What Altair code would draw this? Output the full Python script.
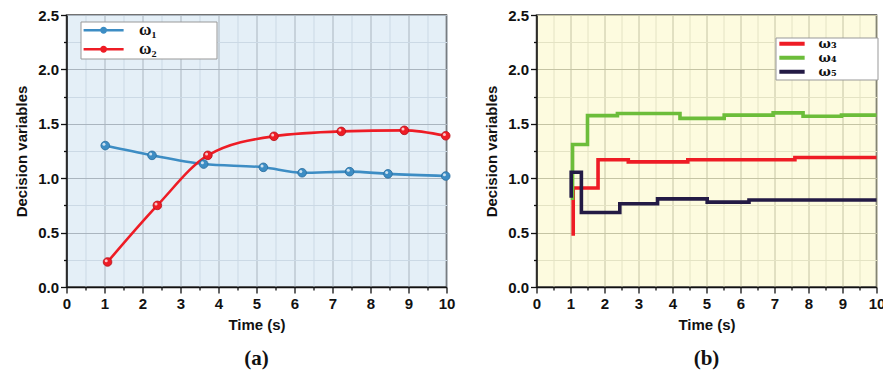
import altair as alt
import pandas as pd

# ---------------- data: panel (a) ----------------
w1_time = [1.02, 2.25, 3.61, 5.18, 6.20, 7.45, 8.46, 9.98]
w1_val = [1.30, 1.21, 1.13, 1.10, 1.05, 1.06, 1.04, 1.02]
w2_time = [1.08, 2.39, 3.72, 5.46, 7.23, 8.89, 9.98]
w2_val = [0.23, 0.75, 1.21, 1.385, 1.43, 1.44, 1.39]

# ---------------- data: panel (b) (step signals) ----------------
w3_time = [1.08, 1.08, 1.81, 2.70, 4.45, 7.60, 10.0]
w3_val = [0.47, 0.91, 1.17, 1.15, 1.17, 1.19, 1.19]
w4_time = [1.06, 1.06, 1.50, 2.38, 4.22, 5.52, 6.96, 7.84, 8.97, 10.0]
w4_val = [0.80, 1.31, 1.575, 1.595, 1.55, 1.58, 1.60, 1.57, 1.58, 1.58]
w5_time = [1.02, 1.02, 1.32, 2.45, 3.56, 5.02, 6.25, 10.0]
w5_val = [0.82, 1.055, 0.685, 0.765, 0.81, 0.78, 0.80, 0.80]

series_a = ["ω₁", "ω₂"]
series_b = ["ω₃", "ω₄", "ω₅"]
colors_a = ["#3d8dc4", "#ee1c25"]
edge_a = ["#2a6c9c", "#b5121a"]
colors_b = ["#ee1c25", "#6cbd3a", "#231a45"]

x_ticks = [i * 0.5 for i in range(21)]
y_ticks = [i * 0.25 for i in range(11)]


def frame(rows):
    out = []
    for name, ts, vs in rows:
        for i, (t, v) in enumerate(zip(ts, vs)):
            out.append({"series": name, "t": t, "v": v, "idx": i})
    return pd.DataFrame(out)


df_a = frame([(series_a[0], w1_time, w1_val), (series_a[1], w2_time, w2_val)])
df_b = frame([(series_b[0], w3_time, w3_val), (series_b[1], w4_time, w4_val),
              (series_b[2], w5_time, w5_val)])

SANS = "Liberation Sans"
SERIF = "Liberation Serif, DejaVu Serif"
SERIF_B = "DejaVu Serif"
NB = "\u00a0"


def x_enc(major, minor):
    return alt.X(
        "t:Q",
        scale=alt.Scale(domain=[0, 10], nice=False, zero=False),
        axis=alt.Axis(
            values=x_ticks,
            labelExpr="datum.value % 1 == 0 ? format(datum.value, 'd') : ''",
            title="Time (s)",
            labelFont=SANS, labelFontSize=15, labelFontWeight="bold", labelColor="#111",
            titleFont=SANS, titleFontSize=15, titleFontWeight="bold", titleColor="#111",
            labelPadding=3, titlePadding=6, labelOverlap=False, labelFlush=False,
            domainColor="#111", domainWidth=1.5,
            tickColor="#111", tickWidth=1.3,
            tickSize={"condition": {"test": "datum.value % 1 != 0", "value": 3}, "value": 6},
            grid=True,
            gridColor={"condition": {"test": "datum.value % 1 != 0", "value": minor}, "value": major},
            gridWidth=1,
        ),
    )


def y_enc(major, minor):
    return alt.Y(
        "v:Q",
        scale=alt.Scale(domain=[0, 2.5], nice=False, zero=False),
        axis=alt.Axis(
            values=y_ticks,
            labelExpr="datum.value % 0.5 == 0 ? format(datum.value, '.1f') : ''",
            title="Decision variables",
            labelFont=SANS, labelFontSize=15, labelFontWeight="bold", labelColor="#111",
            titleFont=SANS, titleFontSize=15, titleFontWeight="bold", titleColor="#111",
            labelPadding=2, titlePadding=8, labelOverlap=False,
            domainColor="#111", domainWidth=1.5,
            tickColor="#111", tickWidth=1.3,
            tickSize={"condition": {"test": "datum.value % 0.5 != 0", "value": 3}, "value": 6},
            grid=True,
            gridColor={"condition": {"test": "datum.value % 0.5 != 0", "value": minor}, "value": major},
            gridWidth=1,
        ),
    )


legend_a_path = ("M-3,0H3M0.32,0A0.32,0.32,0,1,1,-0.32,0A0.32,0.32,0,1,1,0.32,0"
                 "M0.12,0A0.12,0.12,0,1,1,-0.12,0A0.12,0.12,0,1,1,0.12,0")

legend_a = alt.Legend(
    orient="none", legendX=14, legendY=6.5, title=None,
    symbolType=legend_a_path, symbolSize=178, symbolStrokeWidth=2.6,
    symbolOffset=14.6, labelOffset=27,
    labelFont=SERIF, labelFontSize=17, labelFontWeight="bold", labelColor="#111",
    labelExpr="datum.label + '" + NB * 14 + "\u200b'",
    clipHeight=17.6,
    strokeColor="#999", fillColor="white", padding=0, rowPadding=0,
)

xa = x_enc("#aab5bf", "#cbd9e5")
ya = y_enc("#aab5bf", "#cbd9e5")

lines_a = alt.Chart(df_a).mark_line(interpolate="monotone", strokeWidth=2.6).encode(
    x=xa, y=ya,
    color=alt.Color("series:N", scale=alt.Scale(domain=series_a, range=colors_a), legend=legend_a),
    order="idx:Q",
)
points_a = alt.Chart(df_a).mark_point(filled=True, size=75, opacity=1, strokeWidth=0.8).encode(
    x=xa, y=ya,
    fill=alt.Fill("series:N", scale=alt.Scale(domain=series_a, range=colors_a), legend=None),
    stroke=alt.Stroke("series:N", scale=alt.Scale(domain=series_a, range=edge_a), legend=None),
)
shine_a = alt.Chart(df_a).mark_point(
    filled=True, size=9, color="white", opacity=0.75, xOffset=-1.3, yOffset=-1.3
).encode(x=xa, y=ya)

chart_a = alt.layer(lines_a, points_a, shine_a).resolve_scale(fill="independent", stroke="independent").properties(
    width=380, height=272,
    view=alt.ViewBackground(fill="#e4eff7", stroke="#444", strokeWidth=1.5),
    title=alt.TitleParams("(a)", orient="bottom", font="Liberation Serif", fontSize=21,
                          fontWeight="bold", color="#111", offset=16, anchor="middle"),
)

legend_b = alt.Legend(
    orient="none", legendX=239, legendY=22.5, title=None,
    symbolType="M-4,0H4", symbolSize=40, symbolStrokeWidth=4,
    symbolOffset=10, labelOffset=20,
    labelFont=SERIF_B, labelFontSize=13, labelFontWeight="bold", labelColor="#111",
    labelExpr="datum.label + '" + NB * 9 + "\u200b'",
    clipHeight=12.6,
    strokeColor="#999", fillColor="white", padding=0, rowPadding=0,
)

xb = x_enc("#c5c4a4", "#e4e3c4")
yb = y_enc("#c5c4a4", "#e4e3c4")

chart_b = alt.Chart(df_b).mark_line(interpolate="step-after", strokeWidth=3.6).encode(
    x=xb, y=yb,
    color=alt.Color("series:N", scale=alt.Scale(domain=series_b, range=colors_b), legend=legend_b),
    order="idx:Q",
).properties(
    width=340, height=272,
    view=alt.ViewBackground(fill="#fdfbdf", stroke="#444", strokeWidth=1.5),
    title=alt.TitleParams("(b)", orient="bottom", font="Liberation Serif", fontSize=21,
                          fontWeight="bold", color="#111", offset=16, anchor="middle"),
)

chart = alt.hconcat(chart_a, chart_b, spacing=27).resolve_scale(color="independent").properties(
    padding={"left": 13.5, "top": 7, "right": -4, "bottom": 0},
    background="white",
)

chart.save("out.html", embed_options={"renderer": "svg", "actions": False})
